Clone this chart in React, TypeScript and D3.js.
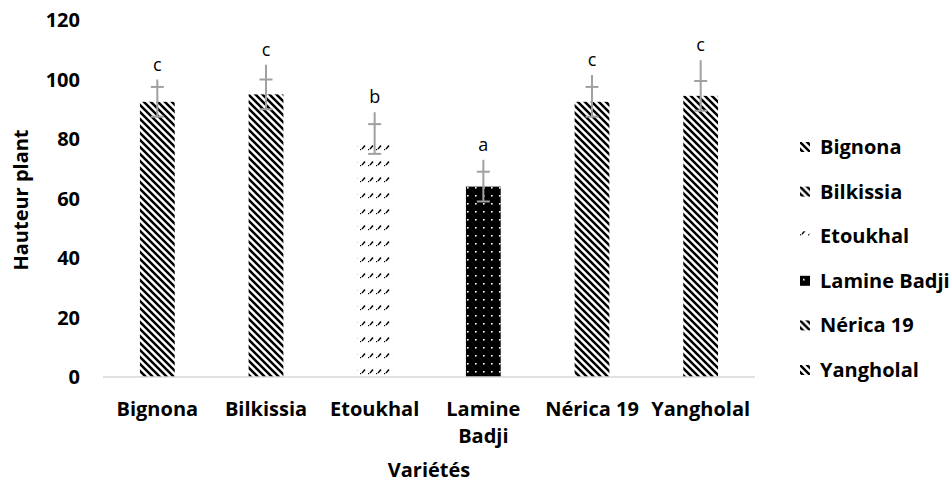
import * as d3 from "d3";
import React from "react";

// values
const varieties = ["Bignona", "Bilkissia", "Etoukhal", "Lamine Badji", "Nérica 19", "Yangholal"];
const tickLines = [["Bignona"], ["Bilkissia"], ["Etoukhal"], ["Lamine", "Badji"], ["Nérica 19"], ["Yangholal"]];
const means = [92.5, 95, 80, 64, 92.5, 94.5];
const errCaps = [5, 5, 5, 5, 5, 5];
const errTops = [100, 105, 89, 73, 101.5, 106.5];
const letters = ["c", "c", "b", "a", "c", "c"];
const fills = ["diag", "diag", "dash", "dots", "diag", "diag"];
const yTicks = [0, 20, 40, 60, 80, 100, 120];

const W = 949;
const H = 489;
const font = "'Open Sans', sans-serif";

// pattern tiles, optionally shifted so a small swatch starts on a clean tile
const Pattern = ({ id, kind, dx = 0, dy = 0 }: { id: string; kind: string; dx?: number; dy?: number }) => {
  const tf = `translate(${dx},${dy})`;
  if (kind === "diag")
    return (
      <pattern id={id} width={7} height={7} patternUnits="userSpaceOnUse" patternTransform={tf}>
        <rect width={7} height={7} fill="#fff" />
        <path d="M-1,-1 L8,8 M-1,6 L1,8 M6,-1 L8,1" stroke="#000" strokeWidth={2.5} />
      </pattern>
    );
  if (kind === "dash")
    return (
      <pattern id={id} width={8} height={16} patternUnits="userSpaceOnUse" patternTransform={tf}>
        <rect width={8} height={16} fill="#fff" />
        <path d="M2,5 L5,1.5" stroke="#000" strokeWidth={1.4} />
        <rect x={0} y={5} width={1.2} height={1.2} fill="#000" />
      </pattern>
    );
  return (
    <pattern id={id} width={8} height={8} patternUnits="userSpaceOnUse" patternTransform={tf}>
      <rect width={8} height={8} fill="#000" />
      <rect x={3} y={3} width={1.6} height={1.6} fill="#fff" />
    </pattern>
  );
};

const App = () => {
  const x = d3.scaleBand<string>().domain(varieties).range([103, 755]).padding(0);
  const y = d3.scaleLinear().domain([0, 120]).range([377, 20]);
  const barW = x.bandwidth() * 0.32;
  const cx = (d: string) => (x(d) as number) + x.bandwidth() / 2;

  const legendY = d3.scalePoint<string>().domain(varieties).range([147, 370]);

  return (
    <svg width={W} height={H} style={{ position: "absolute", left: 0, top: 0, background: "#fff" }}>
      <defs>
        <Pattern id="diag" kind="diag" />
        <Pattern id="dash" kind="dash" />
        <Pattern id="dots" kind="dots" />
        {varieties.map((v, i) => (
          <Pattern
            key={v}
            id={`leg${i}`}
            kind={fills[i]}
            dx={800}
            dy={(legendY(v) as number) - 5 - (fills[i] === "dash" ? 2 : 0)}
          />
        ))}
      </defs>

      {/* bars */}
      {varieties.map((v, i) => (
        <rect
          key={v}
          x={cx(v) - barW / 2}
          y={y(means[i])}
          width={barW}
          height={y(0) - y(means[i])}
          fill={`url(#${fills[i]})`}
        />
      ))}

      {/* x axis line */}
      <line x1={103} x2={755} y1={y(0)} y2={y(0)} stroke="#d9d9d9" strokeWidth={1.5} />

      {/* error bars */}
      {varieties.map((v, i) => {
        const c = cx(v);
        return (
          <g key={v} stroke="#a0a0a0" strokeWidth={2}>
            <line x1={c} x2={c} y1={y(errTops[i])} y2={y(means[i] - errCaps[i])} />
            <line x1={c - 6.5} x2={c + 6.5} y1={y(means[i] + errCaps[i])} y2={y(means[i] + errCaps[i])} />
            <line x1={c - 6.5} x2={c + 6.5} y1={y(means[i] - errCaps[i])} y2={y(means[i] - errCaps[i])} />
          </g>
        );
      })}

      {/* significance letters */}
      {varieties.map((v, i) => (
        <text
          key={v}
          x={cx(v)}
          y={y(errTops[i]) - 9}
          textAnchor="middle"
          fontFamily={font}
          fontSize={18}
          fill="#000"
        >
          {letters[i]}
        </text>
      ))}

      {/* y ticks */}
      {yTicks.map((t) => (
        <text
          key={t}
          x={80}
          y={y(t)}
          dy="0.35em"
          textAnchor="end"
          fontFamily={font}
          fontWeight="bold"
          fontSize={20}
          fill="#000"
        >
          {t}
        </text>
      ))}

      {/* x tick labels */}
      {varieties.map((v, i) =>
        tickLines[i].map((l, j) => (
          <text
            key={v + j}
            x={cx(v)}
            y={416 + j * 27}
            textAnchor="middle"
            fontFamily={font}
            fontWeight="bold"
            fontSize={20}
            fill="#000"
          >
            {l}
          </text>
        ))
      )}

      {/* axis titles */}
      <text x={429} y={477} textAnchor="middle" fontFamily={font} fontWeight="bold" fontSize={20}>
        Variétés
      </text>
      <text
        transform="translate(28,200) rotate(-90)"
        textAnchor="middle"
        fontFamily={font}
        fontWeight="bold"
        fontSize={20}
      >
        Hauteur plant
      </text>

      {/* legend */}
      {varieties.map((v, i) => {
        const ly = legendY(v) as number;
        return (
          <g key={v}>
            <rect x={800} y={ly - 5} width={10} height={10} fill={`url(#leg${i})`} />
            <text x={820} y={ly} dy="0.35em" fontFamily={font} fontWeight="bold" fontSize={20}>
              {v}
            </text>
          </g>
        );
      })}
    </svg>
  );
};

export default App;
